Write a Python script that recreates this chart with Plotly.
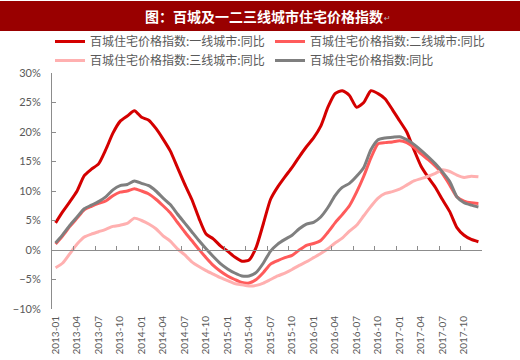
import plotly.graph_objects as go

months = [f"{y}-{m:02d}" for y in range(2013, 2018) for m in range(1, 13)]
tick_labels = months[::3]

tier1 = [4.6, 6.5, 8.2, 10.0, 12.6, 13.7, 14.6, 17.0, 19.8, 21.8, 22.7, 23.6,
         22.5, 22.0, 20.6, 18.8, 16.8, 14.0, 11.2, 8.6, 5.4, 2.7, 1.9, 0.7,
         -0.2, -1.2, -1.9, -1.7, 0.5, 4.5, 8.6, 10.7, 12.4, 14.0, 15.8, 17.5,
         19.0, 21.0, 24.2, 26.5, 27.0, 26.2, 24.2, 25.0, 27.0, 26.5, 25.6, 23.8,
         21.9, 20.0, 17.0, 14.2, 12.3, 10.6, 8.5, 6.5, 3.8, 2.5, 1.8, 1.4]
tier2 = [1.0, 2.4, 4.0, 5.4, 6.8, 7.4, 7.9, 8.3, 9.2, 9.8, 10.0, 10.4,
         10.0, 9.5, 8.6, 7.5, 6.3, 4.7, 3.1, 1.6, 0.1, -1.3, -2.6, -3.6,
         -4.4, -5.0, -5.5, -5.6, -5.0, -3.8, -2.4, -1.8, -1.3, -0.9, 0.0, 0.8,
         1.1, 1.6, 3.0, 4.6, 6.0, 7.5, 9.8, 12.5, 15.6, 18.0, 18.2, 18.3,
         18.5, 18.2, 17.4, 16.3, 15.3, 14.2, 12.9, 11.0, 9.0, 8.3, 8.0, 7.9]
tier3 = [-3.0, -2.2, -0.6, 1.0, 2.2, 2.7, 3.1, 3.5, 4.0, 4.2, 4.5, 5.4,
         5.0, 4.4, 3.6, 2.4, 1.5, 0.2, -0.8, -2.0, -2.8, -3.5, -4.1, -4.7,
         -5.2, -5.7, -5.9, -6.1, -6.0, -5.6, -5.0, -4.4, -3.9, -3.3, -2.6, -2.0,
         -1.3, -0.6, 0.2, 1.2, 2.0, 3.2, 4.2, 5.8, 7.4, 8.8, 9.6, 9.9,
         10.3, 11.0, 11.7, 12.1, 12.5, 13.0, 13.6, 13.3, 12.7, 12.3, 12.5, 12.4]
overall = [1.2, 2.6, 4.2, 5.6, 7.0, 7.6, 8.2, 9.0, 10.2, 10.9, 11.1, 11.7,
           11.3, 10.9, 10.0, 8.8, 7.7, 6.1, 4.6, 3.1, 1.6, 0.2, -1.1, -2.3,
           -3.2, -3.9, -4.4, -4.4, -3.8, -2.2, -0.2, 1.0, 1.8, 2.5, 3.6, 4.4,
           4.7, 5.6, 7.2, 9.2, 10.6, 11.3, 12.5, 14.0, 17.0, 18.7, 19.0, 19.1,
           19.2, 18.7, 17.9, 16.9, 15.8, 14.6, 13.2, 11.6, 9.0, 8.0, 7.6, 7.3]

names = ["百城住宅价格指数:一线城市:同比", "百城住宅价格指数:二线城市:同比",
         "百城住宅价格指数:三线城市:同比", "百城住宅价格指数:同比"]
colors = ["#D40000", "#FF5B5B", "#FFB0B0", "#7F7F7F"]
series = [tier1, tier2, tier3, overall]

title_text = "图：百城及一二三线城市住宅价格指数"

fig = go.Figure()
for nm, col, vals in zip(names, colors, series):
    fig.add_trace(go.Scatter(x=months, y=vals, mode="lines", name=nm,
                             line=dict(color=col, width=3, shape="spline", smoothing=0.6)))
# invisible trace to carry the zero-line axis
fig.add_trace(go.Scatter(x=[0], y=[0], xaxis="x2", mode="markers",
                         marker=dict(opacity=0), showlegend=False, hoverinfo="skip"))

L, R, T, B = 52, 38, 73, 51
W, H = 520, 360
pw, ph = W - L - R, H - T - B

def px_x(p):
    return (p - L) / pw

def px_y(p):
    return (H - B - p) / ph

fig.add_shape(type="rect", xref="paper", yref="paper",
              x0=px_x(0), x1=px_x(W), y0=px_y(31), y1=px_y(1),
              fillcolor="#990000", line=dict(width=0), layer="below")
fig.add_annotation(text=title_text, xref="paper", yref="paper",
                   x=px_x(264), y=px_y(16), xanchor="center", yanchor="middle", showarrow=False,
                   font=dict(family="Noto Sans CJK SC", size=14, color="white", weight="bold"))
fig.add_annotation(text="↵", xref="paper", yref="paper",
                   x=px_x(382), y=px_y(19), xanchor="left", yanchor="middle", showarrow=False,
                   font=dict(family="DejaVu Sans", size=8, color="#BBBBBB"))

fig.update_layout(
    width=W, height=H,
    margin=dict(l=L, r=R, t=T, b=B, autoexpand=False),
    paper_bgcolor="white", plot_bgcolor="white",
    font=dict(family="Noto Sans CJK SC", color="#595959"),
    showlegend=True,
    legend=dict(orientation="h", x=px_x(50), y=px_y(27), xanchor="left", yanchor="top",
                entrywidth=175, entrywidthmode="pixels", itemwidth=30,
                font=dict(size=12, color="#595959"), tracegroupgap=0,
                bgcolor="rgba(0,0,0,0)"),
    xaxis=dict(type="category", range=[-0.5, 59.5], tickvals=tick_labels,
               tickangle=-90, showline=False, ticks="", showgrid=False, zeroline=False,
               tickfont=dict(family="Lato", size=10, color="#595959"),
               ticklabelstandoff=4),
    xaxis2=dict(overlaying="x", anchor="free", position=0.25, type="linear",
                range=[-0.5, 59.5], tickvals=[2.5 + 3 * k for k in range(20)],
                showticklabels=False, ticks="inside", ticklen=4, tickcolor="#8C8C8C",
                showline=True, linecolor="#8C8C8C", linewidth=1, showgrid=False, zeroline=False),
    yaxis=dict(range=[-10, 30], dtick=5, ticksuffix="%", ticks="inside", ticklen=4,
               tickcolor="#8C8C8C", showline=True, linecolor="#8C8C8C", linewidth=1,
               showgrid=False, zeroline=False,
               tickfont=dict(family="Lato", size=11, color="#595959"),
               ticklabelstandoff=8),
)

fig.write_html("out.html", config={"displayModeBar": False},
               post_script="document.body.style.margin='0px';")
